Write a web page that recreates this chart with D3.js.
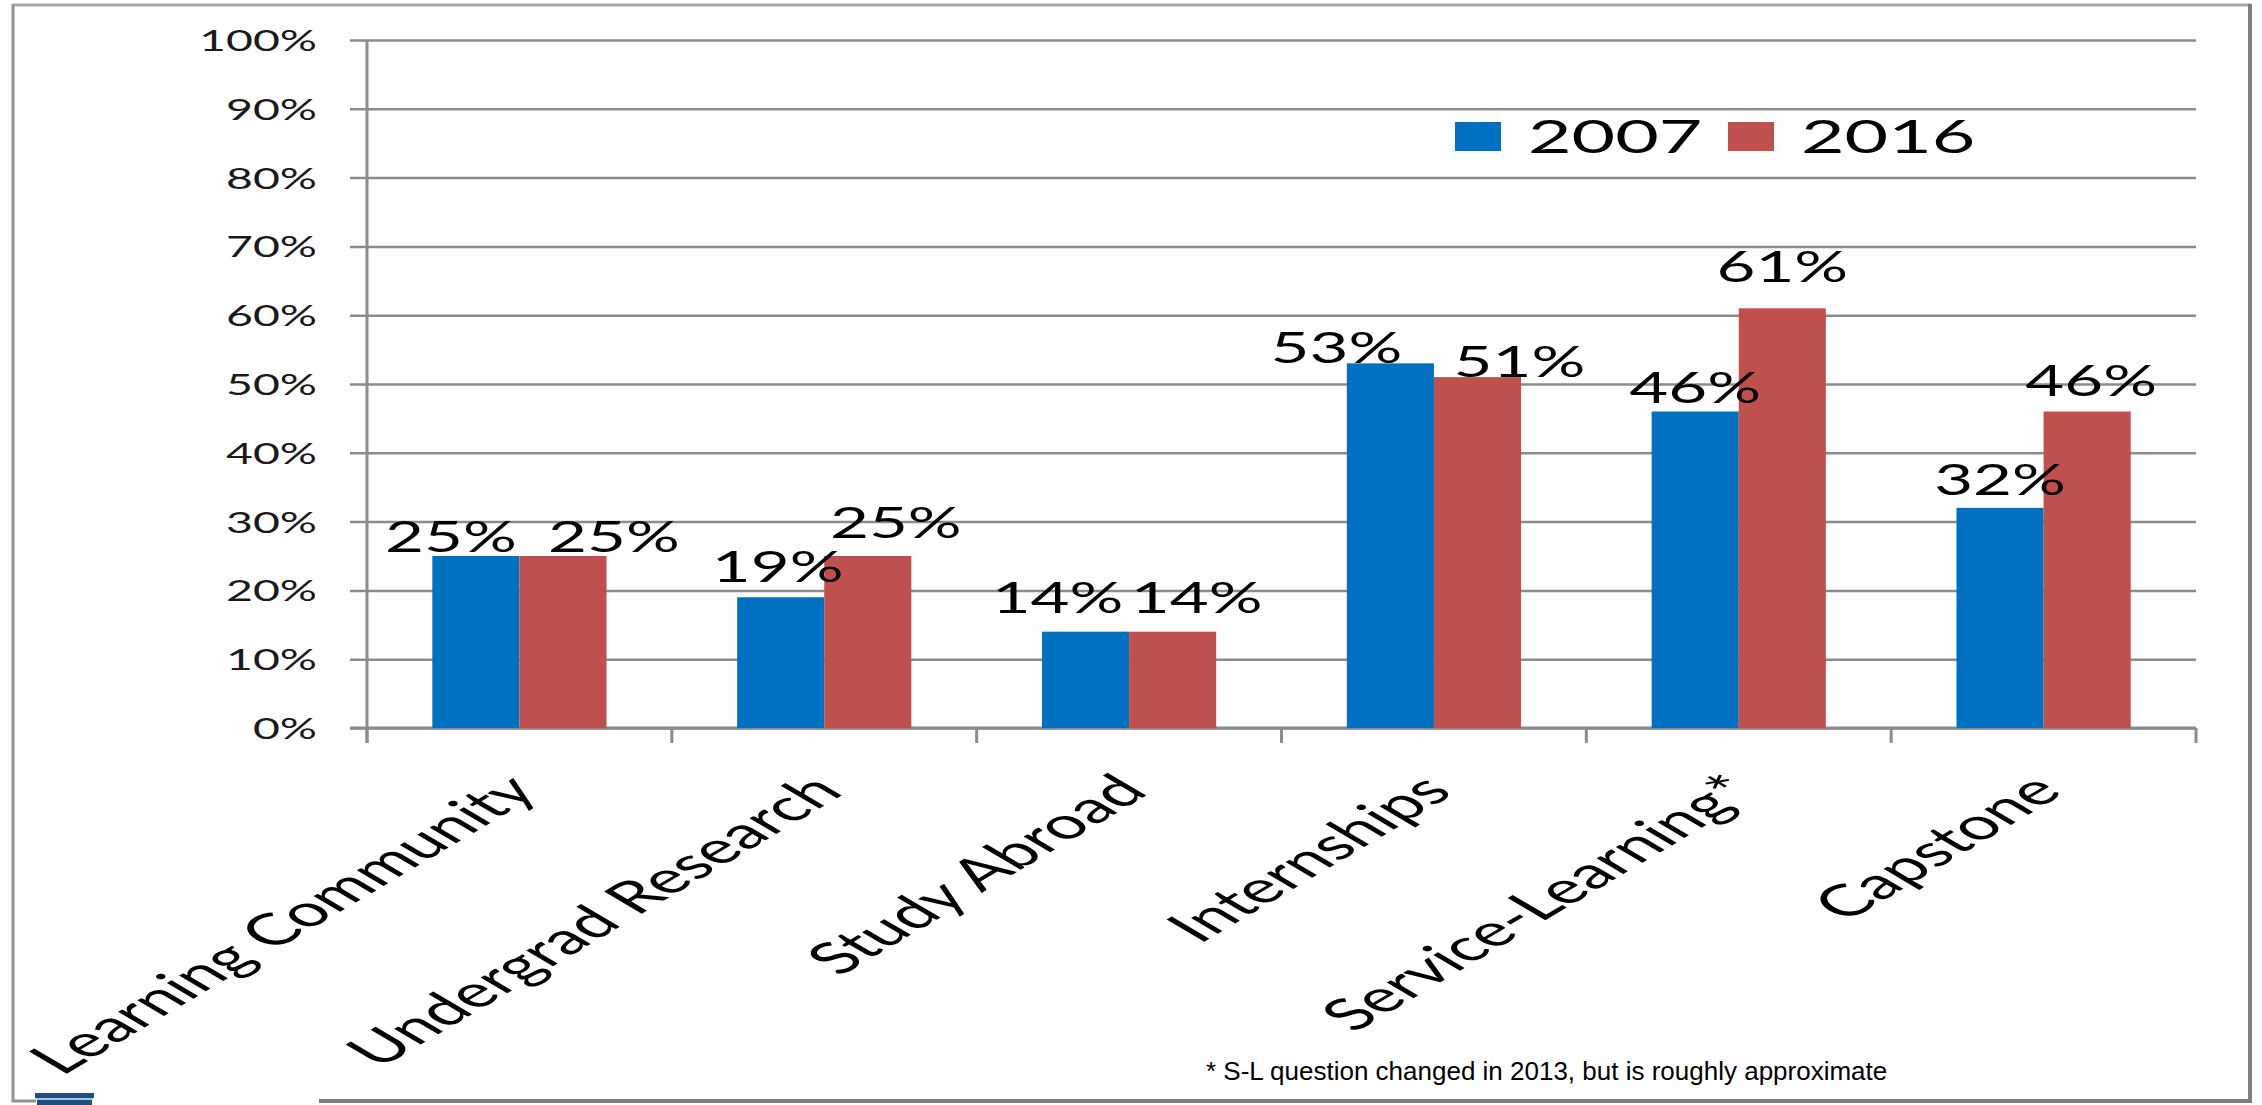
<!DOCTYPE html>
<html>
<head>
<meta charset="utf-8">
<script src="https://cdn.jsdelivr.net/npm/d3@7"></script>
<style>
  html, body { margin: 0; padding: 0; background: #ffffff; }
  svg { display: block; }
</style>
</head>
<body>
<svg id="chart" width="2262" height="1105"></svg>
<script>
// ---------------- DATA ----------------
const categories = ["Learning Community", "Undergrad Research", "Study Abroad", "Internships", "Service-Learning*", "Capstone"];
const seriesNames = ["2007", "2016"];
const values2007 = [0.25, 0.19, 0.14, 0.53, 0.46, 0.32];
const values2016 = [0.25, 0.25, 0.14, 0.51, 0.61, 0.46];
const yTicks = [0, 0.1, 0.2, 0.3, 0.4, 0.5, 0.6, 0.7, 0.8, 0.9, 1.0];
const footnote = "* S-L question changed in 2013, but is roughly approximate";

// ---------------- LAYOUT / STYLE ----------------
const W = 2262, H = 1105;
const SX = 1.6;                       // horizontal stretch of the original picture's text
const SX_CAT = 1.69;                  // stretch seen on the slanted category labels
const colors = { "2007": "#0070C0", "2016": "#C0504D" };
const gridColor = "#8c8c8c";
const plot = { left: 367, right: 2196, top: 40, bottom: 728 };
// manual label nudges (px) as placed in the original slide: [dx, dyAboveBarTop]
const nudge2007 = [[-25, 4], [-3, 15], [-28, 19], [-54, 0], [0, 9], [0, 13]];
const nudge2016 = [[51, 4], [28, 18], [24, 19], [42, 0], [0, 26], [4, 16]];

const svg = d3.select("#chart");

// scales
const x = d3.scaleBand().domain(categories).range([plot.left, plot.right]).paddingInner(0).paddingOuter(0);
const xs = d3.scaleBand().domain(seriesNames).range([0, x.bandwidth()]).paddingInner(0).paddingOuter(0.75);
const y = d3.scaleLinear().domain([0, 1]).range([plot.bottom, plot.top]);

// ---- frame ----
const frame = svg.append("g");
frame.append("line").attr("x1", 13).attr("x2", 2251).attr("y1", 5).attr("y2", 5)
  .attr("stroke", "#a6a6a6").attr("stroke-width", 3);
frame.append("line").attr("x1", 13).attr("x2", 13).attr("y1", 4).attr("y2", 1102)
  .attr("stroke", "#929292").attr("stroke-width", 3);
frame.append("line").attr("x1", 2250).attr("x2", 2250).attr("y1", 4).attr("y2", 1103)
  .attr("stroke", "#7f7f7f").attr("stroke-width", 4);
frame.append("line").attr("x1", 319).attr("x2", 2252).attr("y1", 1101).attr("y2", 1101)
  .attr("stroke", "#7f7f7f").attr("stroke-width", 4);
frame.append("line").attr("x1", 12).attr("x2", 36).attr("y1", 1101).attr("y2", 1101)
  .attr("stroke", "#929292").attr("stroke-width", 3);
// logo fragment at bottom-left
frame.append("rect").attr("x", 35).attr("y", 1093).attr("width", 59).attr("height", 5).attr("fill", "#1f4e80");
frame.append("rect").attr("x", 36).attr("y", 1098).attr("width", 57).attr("height", 2).attr("fill", "#a9c3e3");
frame.append("rect").attr("x", 37).attr("y", 1100).attr("width", 55).attr("height", 5).attr("fill", "#1f4e80");

// ---- y axis with gridlines ----
const yAxis = d3.axisLeft(y)
  .tickValues(yTicks)
  .tickFormat(d3.format(".0%"))
  .tickSize(-(plot.right - 350))
  .tickPadding(0);
const yg = svg.append("g").attr("transform", "translate(350,0)").call(yAxis);
yg.select(".domain").remove();
yg.selectAll(".tick line").attr("stroke", gridColor).attr("stroke-width", 2.5);
yg.selectAll(".tick text")
  .attr("x", null).attr("dy", null)
  .attr("text-anchor", "end")
  .attr("transform", `translate(-33,10.5) scale(${SX},1)`)
  .attr("font-family", "Lato, 'Open Sans', sans-serif")
  .attr("font-size", 29)
  .attr("fill", "#1a1a1a");

// vertical axis line
svg.append("line").attr("x1", plot.left).attr("x2", plot.left)
  .attr("y1", plot.top).attr("y2", plot.bottom + 15)
  .attr("stroke", gridColor).attr("stroke-width", 3);

// category boundary ticks on x axis
const bounds = categories.map(c => x(c)).concat([x.range()[1]]);
svg.append("g").selectAll("line").data(bounds).join("line")
  .attr("x1", d => d).attr("x2", d => d)
  .attr("y1", plot.bottom).attr("y2", plot.bottom + 15)
  .attr("stroke", gridColor).attr("stroke-width", 3);
svg.append("line").attr("x1", 350).attr("x2", plot.right)
  .attr("y1", plot.bottom).attr("y2", plot.bottom)
  .attr("stroke", gridColor).attr("stroke-width", 3);

// ---- bars ----
const rows = categories.map((c, i) => ({ cat: c, i, vals: [
  { s: "2007", v: values2007[i], n: nudge2007[i] },
  { s: "2016", v: values2016[i], n: nudge2016[i] }
]}));

const cg = svg.append("g").selectAll("g").data(rows).join("g")
  .attr("transform", d => `translate(${x(d.cat)},0)`);

cg.selectAll("rect").data(d => d.vals).join("rect")
  .attr("x", d => xs(d.s))
  .attr("width", xs.bandwidth())
  .attr("y", d => y(d.v))
  .attr("height", d => y(0) - y(d.v))
  .attr("fill", d => colors[d.s]);

// data labels
cg.selectAll("text").data(d => d.vals).join("text")
  .attr("text-anchor", "middle")
  .attr("transform", d => `translate(${xs(d.s) + xs.bandwidth() / 2 + d.n[0]},${y(d.v) - d.n[1]}) scale(${SX},1)`)
  .attr("font-family", "Lato, 'Open Sans', sans-serif")
  .attr("font-size", 42)
  .attr("fill", "#000")
  .text(d => d3.format(".0%")(d.v));

// ---- category labels ----
svg.append("g").selectAll("text").data(categories).join("text")
  .attr("text-anchor", "end")
  .attr("dy", "0.72em")
  .attr("transform", c => `translate(${x(c) + x.bandwidth() / 2 - 17},771) scale(${SX_CAT},1) rotate(-45)`)
  .attr("font-family", "Lato, 'Open Sans', sans-serif")
  .attr("font-size", 44)
  .attr("fill", "#000")
  .text(c => c);

// ---- legend ----
const lg = svg.append("g");
const legendX = [1455, 1728];
seriesNames.forEach((s, i) => {
  lg.append("rect").attr("x", legendX[i]).attr("y", 122).attr("width", 46).attr("height", 29)
    .attr("fill", colors[s]);
  lg.append("text")
    .attr("transform", `translate(${legendX[i] + 73},153) scale(${SX},1)`)
    .attr("font-family", "Lato, 'Open Sans', sans-serif")
    .attr("font-size", 47)
    .attr("fill", "#000")
    .text(s);
});

// ---- footnote ----
svg.append("text")
  .attr("x", 1206).attr("y", 1080)
  .attr("font-family", "'Liberation Sans', Arial, sans-serif")
  .attr("font-size", 26)
  .attr("fill", "#000")
  .text(footnote);
</script>
</body>
</html>
